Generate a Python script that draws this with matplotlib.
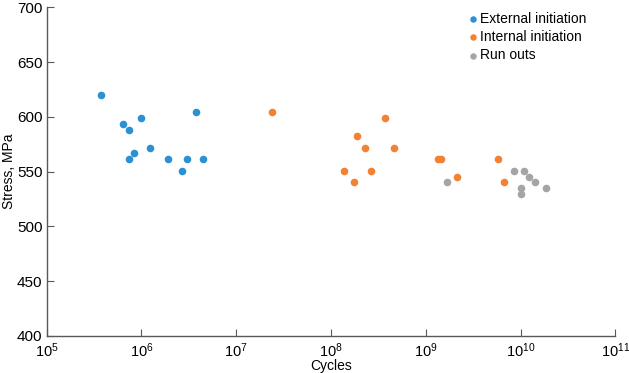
import matplotlib
matplotlib.use("Agg")
import matplotlib.pyplot as plt
from matplotlib.ticker import LogLocator, LogFormatterMathtext, NullLocator

plt.rcParams['font.family'] = ['Liberation Sans', 'DejaVu Sans']
plt.rcParams['mathtext.fontset'] = 'custom'
plt.rcParams['mathtext.rm'] = 'Liberation Sans'
plt.rcParams['mathtext.it'] = 'Liberation Sans'

# External initiation
ext_cycles = [3.73e5, 6.44e5, 7.45e5, 9.9e5, 3.77e6, 1.23e6, 8.43e5, 7.45e5,
              1.92e6, 3.0e6, 4.5e6, 2.68e6]
ext_stress = [620, 593.5, 588, 599, 604, 572, 567, 561.5, 561.5, 561.5, 561.5, 551]

# Internal initiation
int_cycles = [2.37e7, 3.72e8, 1.89e8, 2.29e8, 4.66e8, 1.38e8, 2.64e8, 1.73e8,
              1.34e9, 1.45e9, 2.15e9, 5.73e9, 6.64e9]
int_stress = [604, 599, 582.5, 572, 572, 551, 551, 540.5,
              561.5, 561.5, 545.5, 561.5, 540.5]

# Run outs
run_cycles = [1.67e9, 8.59e9, 1.09e10, 1.22e10, 1.41e10, 1.87e10, 1.02e10, 1.0e10]
run_stress = [540.5, 551, 551, 545.5, 540.5, 535, 535, 529.5]

labels = ["External initiation", "Internal initiation", "Run outs"]
colors = ["#2B90D4", "#F28131", "#A5A5A5"]

fig = plt.figure(figsize=(6.29, 3.73), dpi=100)
ax = fig.add_axes([0.0741, 0.0992, 0.9041, 0.8812])

ax.scatter(ext_cycles, ext_stress, s=30, color=colors[0], label=labels[0], linewidths=0, zorder=3)
ax.scatter(int_cycles, int_stress, s=30, color=colors[1], label=labels[1], linewidths=0, zorder=3)
ax.scatter(run_cycles, run_stress, s=30, color=colors[2], label=labels[2], linewidths=0, zorder=3)

ax.set_xscale('log')
ax.set_xlim(1e5, 1e11)
ax.set_ylim(400, 700)
ax.xaxis.set_major_locator(LogLocator(base=10, numticks=10))
ax.xaxis.set_major_formatter(LogFormatterMathtext())
ax.xaxis.set_minor_locator(NullLocator())
ax.set_yticks([400, 450, 500, 550, 600, 650, 700])

for s in ['top', 'right']:
    ax.spines[s].set_visible(False)
for s in ['left', 'bottom']:
    ax.spines[s].set_color('#595959')
    ax.spines[s].set_linewidth(1.0)

ax.tick_params(axis='x', direction='in', length=5, color='#595959', labelsize=10.5, pad=4)
ax.tick_params(axis='y', direction='in', length=5, color='#595959', labelsize=11, pad=3)

ax.set_xlabel("Cycles", fontsize=10, labelpad=-1)
ax.set_ylabel("Stress, MPa", fontsize=10, labelpad=1)

leg = ax.legend(loc='upper left', bbox_to_anchor=(0.733, 1.003), frameon=False,
                fontsize=10, handlelength=0.6, handletextpad=0.2, labelspacing=0.3,
                markerscale=0.85, borderaxespad=0)

fig.savefig("out.png", dpi=100, facecolor='white')
